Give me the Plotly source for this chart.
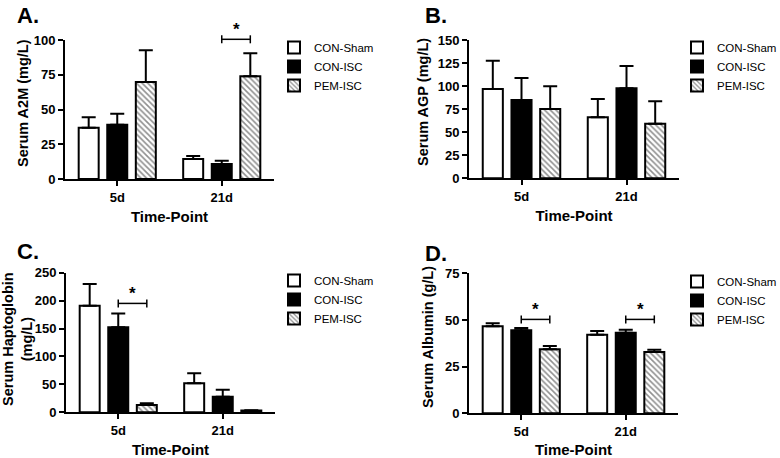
import plotly.graph_objects as go

# ---------------- data ----------------
timepoints = ["5d", "21d"]
groups = ["CON-Sham", "CON-ISC", "PEM-ISC"]

# Panel A: Serum A2M (mg/L)
a2m_sham = [36.9, 14.4]
a2m_isc = [39.1, 10.8]
a2m_pem = [69.8, 73.9]
a2m_sham_err = [7.5, 2.1]
a2m_isc_err = [7.9, 2.4]
a2m_pem_err = [22.8, 16.5]

# Panel B: Serum AGP (mg/L)
agp_sham = [96.9, 66.1]
agp_isc = [84.9, 97.6]
agp_pem = [75.2, 59.2]
agp_sham_err = [30.7, 19.9]
agp_isc_err = [23.9, 24.2]
agp_pem_err = [24.6, 24.3]

# Panel C: Serum Haptoglobin (mg/L)
hp_sham = [190.8, 51.9]
hp_isc = [152.1, 28.0]
hp_pem = [13.0, 3.0]
hp_sham_err = [38.8, 17.9]
hp_isc_err = [24.9, 12.5]
hp_pem_err = [3.0, 0.5]

# Panel D: Serum Albumin (g/L)
alb_sham = [46.6, 42.1]
alb_isc = [44.5, 43.2]
alb_pem = [34.3, 32.8]
alb_sham_err = [1.6, 2.0]
alb_isc_err = [1.2, 1.6]
alb_pem_err = [1.7, 1.3]

# significance brackets: (timepoint index, bracket value)
sig_a = [(1, 100.5)]
sig_c = [(0, 195.0)]
sig_d = [(0, 50.3), (1, 50.3)]

# ---------------- layout constants ----------------
W, H = 780, 458
FONT = "Liberation Sans"
BARGAP = 0.18
SLOT = (1 - BARGAP) / 3

panels = [
    dict(key="1", label="A.", title="Serum A2M (mg/L)", ymax=100, dtick=25,
         vals=[a2m_sham, a2m_isc, a2m_pem], errs=[a2m_sham_err, a2m_isc_err, a2m_pem_err],
         xdom=[65 / W, 274 / W], ydom=[1 - 179 / H, 1 - 40 / H], sig=sig_a,
         lab_xy=(15, 15), leg_xy=(274, 33), ttl_xy=(23, 103)),
    dict(key="2", label="B.", title="Serum AGP (mg/L)", ymax=150, dtick=25,
         vals=[agp_sham, agp_isc, agp_pem], errs=[agp_sham_err, agp_isc_err, agp_pem_err],
         xdom=[469 / W, 679 / W], ydom=[1 - 178.3 / H, 1 - 40 / H], sig=[],
         lab_xy=(423, 15), leg_xy=(677, 33), ttl_xy=(423, 102)),
    dict(key="3", label="C.", title="Serum Haptoglobin<br>(mg/L)", ymax=250, dtick=50,
         vals=[hp_sham, hp_isc, hp_pem], errs=[hp_sham_err, hp_isc_err, hp_pem_err],
         xdom=[66 / W, 275 / W], ydom=[1 - 412.3 / H, 1 - 272.7 / H], sig=sig_c,
         lab_xy=(15, 252), leg_xy=(274, 266), ttl_xy=(17, 339)),
    dict(key="4", label="D.", title="Serum Albumin (g/L)", ymax=75, dtick=25,
         vals=[alb_sham, alb_isc, alb_pem], errs=[alb_sham_err, alb_isc_err, alb_pem_err],
         xdom=[469 / W, 678 / W], ydom=[1 - 413.3 / H, 1 - 273.3 / H], sig=sig_d,
         lab_xy=(423, 254), leg_xy=(677, 267), ttl_xy=(428, 337)),
]

fills = ["white", "black", "white"]
patterns = [None, None, dict(shape="\\", fgcolor="#222222", bgcolor="white", size=4, solidity=0.4)]

fig = go.Figure()
shapes = []
annotations = []
layout = {}

for p in panels:
    k = p["key"]
    xa = "x" if k == "1" else "x" + k
    ya = "y" if k == "1" else "y" + k
    lg = "legend" if k == "1" else "legend" + k
    for gi, g in enumerate(groups):
        marker = dict(color=fills[gi], line=dict(color="black", width=2))
        if patterns[gi] is not None:
            marker["pattern"] = patterns[gi]
        fig.add_trace(go.Bar(
            x=[0, 1], y=p["vals"][gi], name=g,
            marker=marker,
            error_y=dict(type="data", array=p["errs"][gi], arrayminus=[0, 0],
                         symmetric=False, color="black", thickness=2, width=7),
            xaxis=xa, yaxis=ya, legend=lg, showlegend=True,
        ))
    axis_font = dict(family=FONT, size=13, color="black", weight="bold")
    layout["xaxis" if k == "1" else "xaxis" + k] = dict(
        domain=p["xdom"], anchor=ya, range=[-0.5, 1.5],
        tickvals=[0, 1], ticktext=timepoints, ticks="outside", ticklen=5, tickwidth=2,
        tickcolor="black", showline=True, linewidth=2, linecolor="black",
        showgrid=False, zeroline=False, tickfont=axis_font,
        title=dict(text="Time-Point", font=dict(family=FONT, size=15, color="black", weight="bold"),
                   standoff=8),
    )
    layout["yaxis" if k == "1" else "yaxis" + k] = dict(
        domain=p["ydom"], anchor=xa, range=[0, p["ymax"]], dtick=p["dtick"], tick0=0,
        ticks="outside", ticklen=5, tickwidth=2, tickcolor="black",
        showline=True, linewidth=2, linecolor="black", showgrid=False, zeroline=False,
        tickfont=axis_font,
    )
    layout[lg] = dict(
        x=p["leg_xy"][0] / W, y=1 - p["leg_xy"][1] / H, xanchor="left", yanchor="top",
        font=dict(family=FONT, size=11.5, color="black"), bgcolor="rgba(0,0,0,0)",
        borderwidth=0, tracegroupgap=0,
    )
    # panel letter
    annotations.append(dict(
        text=p["label"], x=p["lab_xy"][0] / W, y=1 - p["lab_xy"][1] / H,
        xref="paper", yref="paper", xanchor="left", yanchor="middle", showarrow=False,
        font=dict(family=FONT, size=22, color="black", weight="bold"),
    ))
    # y-axis title
    annotations.append(dict(
        text=p["title"], x=p["ttl_xy"][0] / W, y=1 - p["ttl_xy"][1] / H,
        xref="paper", yref="paper", xanchor="center", yanchor="middle", showarrow=False,
        textangle=-90, font=dict(family=FONT, size=14.5, color="black", weight="bold"),
    ))
    # significance brackets (black bar centre -> PEM bar centre)
    y0d, y1d = p["ydom"]
    for ti, val in p["sig"]:
        yp = y0d + val / p["ymax"] * (y1d - y0d)
        xl, xr = ti, ti + SLOT
        shapes.append(dict(type="line", xref=xa, yref="paper", x0=xl, x1=xr, y0=yp, y1=yp,
                           line=dict(color="black", width=1.5)))
        for xx in (xl, xr):
            shapes.append(dict(type="line", xref=xa, yref="paper", x0=xx, x1=xx,
                               ysizemode="pixel", yanchor=yp, y0=-4, y1=4,
                               line=dict(color="black", width=1.5)))
        annotations.append(dict(text="*", xref=xa, yref="paper", x=(xl + xr) / 2, y=yp,
                                xanchor="center", yanchor="bottom", yshift=-2, showarrow=False,
                                font=dict(family=FONT, size=17, color="black", weight="bold")))

fig.update_layout(
    width=W, height=H, margin=dict(l=0, r=0, t=0, b=0, autoexpand=False),
    paper_bgcolor="white", plot_bgcolor="white",
    barmode="group", bargap=BARGAP, bargroupgap=0.3,
    shapes=shapes, annotations=annotations,
    **layout,
)

fig.write_html("out.html", config={"displayModeBar": False},
               post_script="document.body.style.margin='0px';")
